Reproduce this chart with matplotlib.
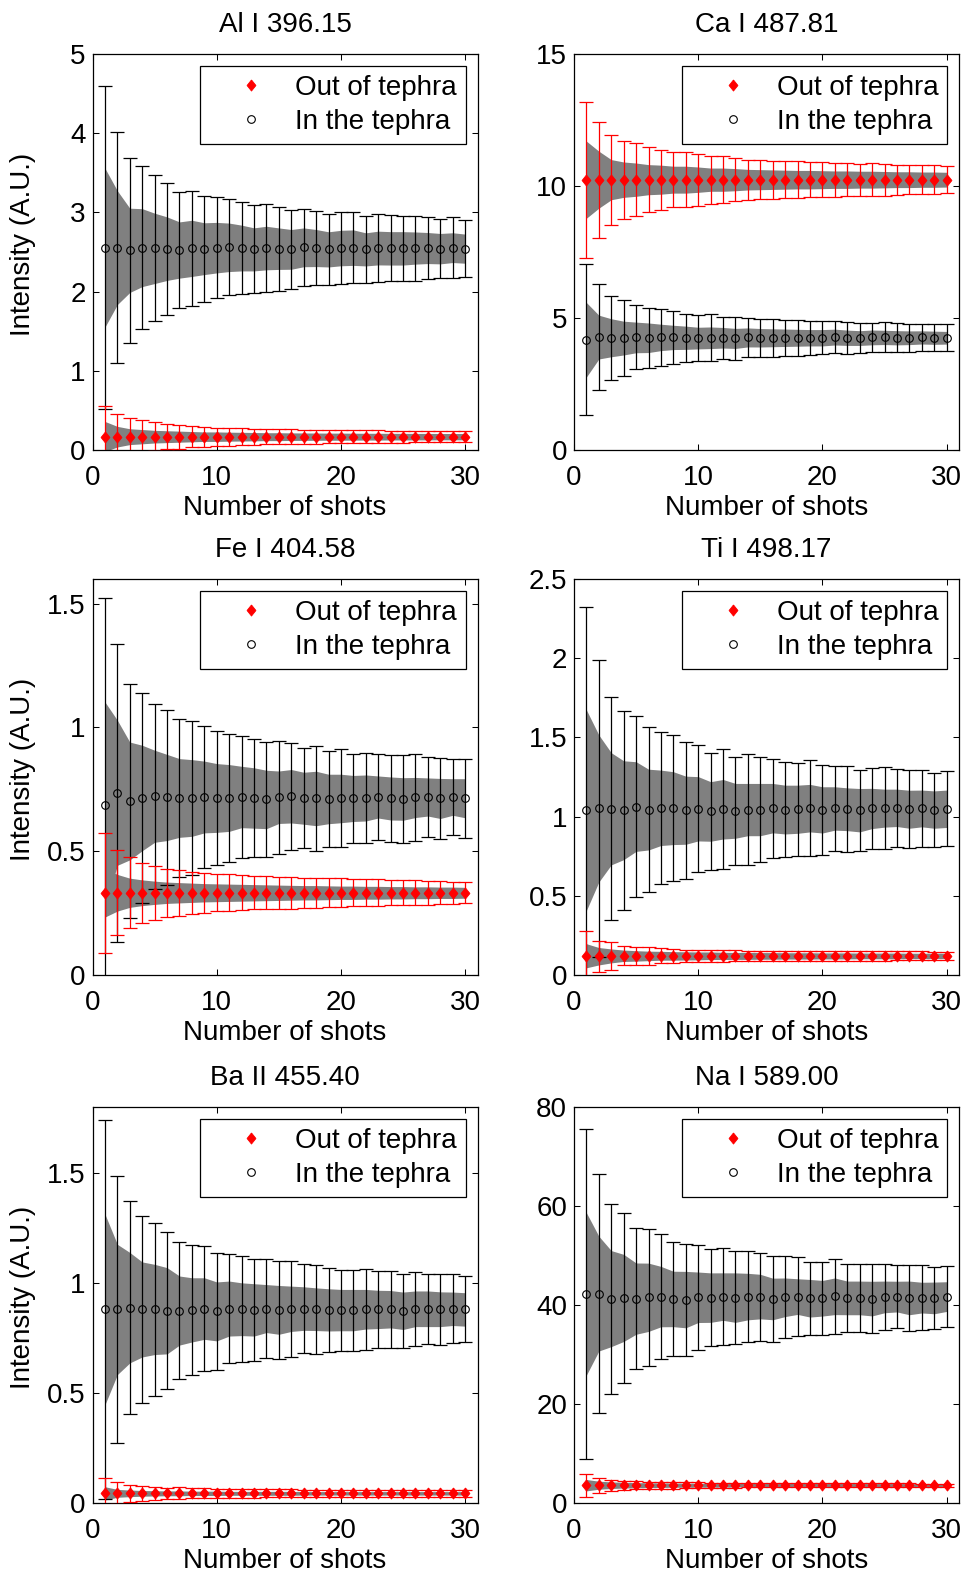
import matplotlib
matplotlib.use("Agg")
import matplotlib.pyplot as plt
from matplotlib.ticker import FormatStrFormatter

plt.rcParams["font.family"] = ["Liberation Sans", "DejaVu Sans"]
plt.rcParams["font.size"] = 20

shots = list(range(1, 31))

# ---- Al I 396.15 ----
al_out_mean = [0.17] + [0.168] * 29
al_out_err = [0.38, 0.283, 0.241, 0.211, 0.182, 0.161, 0.152, 0.135, 0.127, 0.114, 0.114, 0.106, 0.101, 0.097, 0.097,
              0.093, 0.089, 0.089, 0.084, 0.084, 0.080, 0.080, 0.080, 0.076, 0.076, 0.072, 0.072, 0.072, 0.068, 0.068]
al_out_band = [0.19, 0.13, 0.10, 0.09, 0.08, 0.075, 0.07, 0.065, 0.06, 0.06, 0.057, 0.055, 0.053, 0.05, 0.05,
               0.048, 0.047, 0.046, 0.045, 0.045, 0.044, 0.043, 0.043, 0.042, 0.042, 0.041, 0.041, 0.040, 0.040, 0.040]
al_in_mean = [2.555, 2.555, 2.521, 2.555, 2.546, 2.542, 2.525, 2.546, 2.542, 2.555, 2.559, 2.550, 2.533, 2.550, 2.542,
              2.533, 2.559, 2.550, 2.533, 2.550, 2.555, 2.533, 2.550, 2.546, 2.546, 2.550, 2.550, 2.542, 2.555, 2.542]
al_in_err = [2.04, 1.462, 1.170, 1.029, 0.921, 0.834, 0.735, 0.729, 0.670, 0.634, 0.606, 0.581, 0.556, 0.556, 0.530,
             0.503, 0.490, 0.469, 0.452, 0.450, 0.444, 0.422, 0.433, 0.418, 0.412, 0.410, 0.395, 0.374, 0.382, 0.361]
al_in_band = [1.003, 0.718, 0.532, 0.492, 0.444, 0.401, 0.355, 0.355, 0.327, 0.319, 0.306, 0.289, 0.272, 0.275, 0.262,
              0.251, 0.245, 0.234, 0.222, 0.224, 0.224, 0.209, 0.213, 0.211, 0.211, 0.203, 0.196, 0.192, 0.188, 0.184]

# ---- Ca I 487.81 ----
ca_out_mean = [10.24] * 30
ca_out_err = [2.96, 2.20, 1.71, 1.48, 1.38, 1.23, 1.14, 1.04, 1.04, 0.98, 0.91, 0.89, 0.82, 0.76, 0.75,
              0.72, 0.70, 0.69, 0.66, 0.66, 0.65, 0.63, 0.61, 0.62, 0.61, 0.57, 0.56, 0.55, 0.55, 0.52]
ca_out_band = [1.46, 1.08, 0.76, 0.67, 0.63, 0.57, 0.55, 0.51, 0.51, 0.48, 0.44, 0.44, 0.42, 0.39, 0.38,
               0.37, 0.36, 0.35, 0.35, 0.34, 0.33, 0.33, 0.32, 0.32, 0.31, 0.30, 0.30, 0.29, 0.29, 0.28]
ca_in_mean = [4.175, 4.277, 4.251, 4.239, 4.264, 4.251, 4.264, 4.264, 4.251, 4.239, 4.251, 4.251, 4.226, 4.264, 4.251,
              4.251, 4.251, 4.251, 4.251, 4.251, 4.277, 4.251, 4.239, 4.264, 4.264, 4.251, 4.251, 4.264, 4.251, 4.251]
ca_in_err = [2.86, 2.01, 1.59, 1.45, 1.21, 1.13, 1.07, 1.00, 0.90, 0.86, 0.89, 0.79, 0.80, 0.74, 0.72,
             0.72, 0.69, 0.69, 0.65, 0.62, 0.60, 0.60, 0.58, 0.56, 0.57, 0.55, 0.53, 0.52, 0.52, 0.52]
ca_in_band = [1.41, 0.83, 0.72, 0.64, 0.58, 0.56, 0.50, 0.46, 0.44, 0.41, 0.41, 0.39, 0.38, 0.36, 0.35,
              0.34, 0.33, 0.32, 0.31, 0.31, 0.30, 0.29, 0.28, 0.28, 0.27, 0.27, 0.26, 0.25, 0.25, 0.24]

# ---- Fe I 404.58 ----
fe_out_mean = [0.332] * 30
fe_out_err = [0.242, 0.172, 0.143, 0.121, 0.109, 0.096, 0.092, 0.085, 0.081, 0.075, 0.074, 0.071, 0.067, 0.067, 0.065,
              0.065, 0.061, 0.061, 0.058, 0.058, 0.055, 0.054, 0.054, 0.051, 0.051, 0.050, 0.048, 0.047, 0.044, 0.043]
fe_out_band = [0.098, 0.074, 0.059, 0.052, 0.047, 0.043, 0.041, 0.039, 0.037, 0.036, 0.035, 0.034, 0.033, 0.032, 0.031,
               0.030, 0.029, 0.029, 0.028, 0.027, 0.027, 0.026, 0.026, 0.025, 0.025, 0.024, 0.024, 0.023, 0.023, 0.022]
fe_in_mean = [0.688, 0.736, 0.703, 0.715, 0.722, 0.717, 0.715, 0.715, 0.719, 0.715, 0.715, 0.719, 0.715, 0.709, 0.718,
              0.722, 0.714, 0.713, 0.711, 0.713, 0.713, 0.715, 0.719, 0.713, 0.711, 0.717, 0.719, 0.713, 0.719, 0.714]
fe_in_err = [0.834, 0.603, 0.474, 0.424, 0.374, 0.353, 0.318, 0.310, 0.287, 0.271, 0.260, 0.246, 0.240, 0.233, 0.229,
             0.217, 0.203, 0.214, 0.195, 0.198, 0.178, 0.182, 0.175, 0.175, 0.176, 0.174, 0.163, 0.164, 0.152, 0.160]
fe_in_band = [0.415, 0.293, 0.238, 0.213, 0.186, 0.174, 0.159, 0.155, 0.145, 0.139, 0.135, 0.124, 0.122, 0.118, 0.106,
              0.108, 0.105, 0.110, 0.100, 0.098, 0.093, 0.093, 0.085, 0.087, 0.086, 0.081, 0.077, 0.081, 0.074, 0.079]

# ---- Ti I 498.17 ----
ti_out_mean = [0.121, 0.118, 0.120, 0.121, 0.120, 0.120, 0.121, 0.120, 0.120, 0.120, 0.121, 0.120, 0.120, 0.120, 0.120,
               0.120, 0.120, 0.120, 0.120, 0.120, 0.120, 0.120, 0.120, 0.120, 0.120, 0.120, 0.120, 0.120, 0.120, 0.120]
ti_out_err = [0.156, 0.097, 0.086, 0.061, 0.059, 0.055, 0.046, 0.044, 0.040, 0.040, 0.038, 0.038, 0.035, 0.034, 0.034,
              0.033, 0.032, 0.032, 0.031, 0.031, 0.030, 0.030, 0.029, 0.029, 0.029, 0.028, 0.028, 0.028, 0.027, 0.027]
ti_out_band = [0.076, 0.055, 0.044, 0.036, 0.033, 0.030, 0.028, 0.027, 0.026, 0.025, 0.024, 0.023, 0.022, 0.022, 0.021,
               0.021, 0.020, 0.020, 0.020, 0.019, 0.019, 0.019, 0.018, 0.018, 0.018, 0.018, 0.017, 0.017, 0.017, 0.017]
ti_in_mean = [1.040, 1.051, 1.049, 1.040, 1.063, 1.044, 1.055, 1.053, 1.040, 1.049, 1.032, 1.046, 1.036, 1.044, 1.044,
              1.053, 1.044, 1.046, 1.053, 1.042, 1.051, 1.046, 1.040, 1.051, 1.053, 1.055, 1.046, 1.051, 1.044, 1.049]
ti_in_err = [1.28, 0.935, 0.703, 0.627, 0.574, 0.519, 0.481, 0.460, 0.432, 0.401, 0.367, 0.378, 0.342, 0.348, 0.329,
             0.312, 0.300, 0.293, 0.302, 0.283, 0.270, 0.272, 0.257, 0.257, 0.259, 0.247, 0.247, 0.241, 0.234, 0.236]
ti_in_band = [0.633, 0.464, 0.354, 0.312, 0.283, 0.255, 0.238, 0.230, 0.215, 0.203, 0.188, 0.188, 0.173, 0.165, 0.165,
              0.156, 0.154, 0.152, 0.150, 0.146, 0.137, 0.135, 0.137, 0.127, 0.120, 0.118, 0.120, 0.116, 0.118, 0.118]

# ---- Ba II 455.40 ----
ba_out_mean = [0.044] * 30
ba_out_err = [0.071, 0.050, 0.038, 0.035, 0.030, 0.026, 0.027, 0.023, 0.023, 0.020, 0.020, 0.019, 0.019, 0.018, 0.018,
              0.018, 0.017, 0.017, 0.017, 0.017, 0.016, 0.016, 0.016, 0.016, 0.016, 0.015, 0.015, 0.015, 0.015, 0.015]
ba_out_band = [0.030, 0.018, 0.015, 0.013, 0.012, 0.011, 0.011, 0.010, 0.010, 0.010, 0.009, 0.009, 0.009, 0.009, 0.009,
               0.009, 0.008, 0.008, 0.008, 0.008, 0.008, 0.008, 0.008, 0.008, 0.008, 0.008, 0.008, 0.008, 0.008, 0.008]
ba_in_mean = [0.880, 0.880, 0.888, 0.880, 0.880, 0.874, 0.875, 0.878, 0.884, 0.871, 0.884, 0.881, 0.878, 0.884, 0.878,
              0.883, 0.884, 0.881, 0.878, 0.877, 0.877, 0.881, 0.880, 0.881, 0.874, 0.883, 0.883, 0.881, 0.883, 0.880]
ba_in_err = [0.863, 0.608, 0.483, 0.426, 0.392, 0.356, 0.313, 0.295, 0.283, 0.266, 0.249, 0.240, 0.233, 0.225, 0.222,
             0.217, 0.202, 0.202, 0.191, 0.184, 0.184, 0.184, 0.176, 0.175, 0.169, 0.169, 0.160, 0.161, 0.157, 0.150]
ba_in_band = [0.433, 0.296, 0.251, 0.216, 0.205, 0.196, 0.157, 0.146, 0.140, 0.134, 0.125, 0.120, 0.119, 0.109, 0.111,
              0.103, 0.099, 0.097, 0.096, 0.094, 0.094, 0.090, 0.087, 0.085, 0.085, 0.081, 0.081, 0.079, 0.076, 0.076]

# ---- Na I 589.00 ----
na_out_mean = [3.6] * 30
na_out_err = [2.3, 1.48, 1.15, 0.94, 0.81, 0.74, 0.67, 0.67, 0.61, 0.55, 0.52, 0.50, 0.48, 0.46, 0.45,
              0.44, 0.43, 0.42, 0.41, 0.40, 0.39, 0.38, 0.37, 0.37, 0.36, 0.35, 0.35, 0.34, 0.34, 0.33]
na_out_band = [1.15, 0.81, 0.67, 0.58, 0.52, 0.48, 0.45, 0.43, 0.41, 0.40, 0.39, 0.38, 0.37, 0.37, 0.36,
               0.36, 0.35, 0.35, 0.35, 0.34, 0.34, 0.34, 0.33, 0.33, 0.33, 0.33, 0.32, 0.32, 0.32, 0.32]
na_in_mean = [42.25, 42.31, 41.30, 41.44, 41.30, 41.57, 41.71, 41.23, 41.10, 41.57, 41.50, 41.71, 41.50, 41.71, 41.71,
              41.23, 41.57, 41.71, 41.37, 41.37, 41.77, 41.44, 41.44, 41.30, 41.64, 41.71, 41.44, 41.50, 41.44, 41.71]
na_in_err = [33.4, 24.1, 19.2, 17.2, 14.3, 13.8, 12.6, 11.6, 11.3, 10.6, 9.8, 9.8, 9.4, 9.2, 8.9,
             8.6, 8.3, 8.0, 7.4, 7.4, 7.6, 6.8, 6.9, 6.9, 6.7, 6.4, 6.7, 6.5, 6.2, 6.1]
na_in_band = [16.4, 11.6, 9.7, 8.8, 7.2, 6.9, 6.1, 5.6, 5.7, 5.1, 5.0, 4.8, 5.0, 4.7, 4.5,
              4.2, 3.9, 3.6, 3.8, 3.6, 3.7, 3.4, 3.4, 3.5, 3.2, 3.1, 3.4, 3.1, 3.2, 3.0]

titles = ["Al I 396.15", "Ca I 487.81", "Fe I 404.58", "Ti I 498.17", "Ba II 455.40", "Na I 589.00"]
ylims = [5, 15, 1.6, 2.5, 1.8, 80]
yticks = [[0, 1, 2, 3, 4, 5], [0, 5, 10, 15], [0, 0.5, 1, 1.5], [0, 0.5, 1, 1.5, 2, 2.5], [0, 0.5, 1, 1.5],
          [0, 20, 40, 60, 80]]

panels = [
    (al_out_mean, al_out_err, al_out_band, al_in_mean, al_in_err, al_in_band),
    (ca_out_mean, ca_out_err, ca_out_band, ca_in_mean, ca_in_err, ca_in_band),
    (fe_out_mean, fe_out_err, fe_out_band, fe_in_mean, fe_in_err, fe_in_band),
    (ti_out_mean, ti_out_err, ti_out_band, ti_in_mean, ti_in_err, ti_in_band),
    (ba_out_mean, ba_out_err, ba_out_band, ba_in_mean, ba_in_err, ba_in_band),
    (na_out_mean, na_out_err, na_out_band, na_in_mean, na_in_err, na_in_band),
]

# axes boxes in figure fractions (left, bottom, width, height)
lefts = [0.0958, 0.5942]
bottoms = [0.7143, 0.3810, 0.0457]
w, h = 0.3986, 0.2514

diamond = [(0, 1), (0.8, 0), (0, -1), (-0.8, 0), (0, 1)]
gray = "#808080"

fig = plt.figure(figsize=(9.66, 15.75), dpi=100)

for i, (om, oe, ob, im, ie, ib) in enumerate(panels):
    ax = fig.add_axes([lefts[i % 2], bottoms[i // 2], w, h])

    ax.fill_between(shots, [m - b for m, b in zip(im, ib)], [m + b for m, b in zip(im, ib)],
                    color=gray, linewidth=0, zorder=1)
    ax.fill_between(shots, [m - b for m, b in zip(om, ob)], [m + b for m, b in zip(om, ob)],
                    color=gray, linewidth=0, zorder=1)

    ax.errorbar(shots, im, yerr=ie, fmt="none", ecolor="black", elinewidth=0.9, capsize=5, capthick=0.9, zorder=2)
    ax.errorbar(shots, om, yerr=oe, fmt="none", ecolor="red", elinewidth=0.9, capsize=5, capthick=0.9, zorder=3)

    l_in, = ax.plot(shots, im, linestyle="none", marker="o", markersize=5.5, markerfacecolor="none",
                    markeredgecolor="black", markeredgewidth=0.8, zorder=4, label="In the tephra")
    l_out, = ax.plot(shots, om, linestyle="none", marker=diamond, markersize=8, color="red",
                     markeredgewidth=0.6, zorder=5, label="Out of tephra")

    ax.set_xlim(0, 31)
    ax.set_ylim(0, ylims[i])
    ax.set_xticks([0, 10, 20, 30])
    ax.set_yticks(yticks[i])
    ax.yaxis.set_major_formatter(FormatStrFormatter("%g"))
    ax.tick_params(direction="in", top=True, right=True, length=4, width=0.75, labelsize=20)
    ax.tick_params(axis="x", pad=10.5)
    ax.tick_params(axis="y", pad=5)
    for s in ax.spines.values():
        s.set_linewidth(0.9)

    ax.set_title(titles[i], fontsize=20, pad=16)
    ax.set_xlabel("Number of shots", fontsize=20, labelpad=3.5)
    if i % 2 == 0:
        ax.set_ylabel("Intensity (A.U.)", fontsize=20)
        ax.yaxis.set_label_coords(-0.147, 0.52)

    leg = ax.legend([l_out, l_in], ["Out of tephra", "In the tephra"], loc="upper right", fontsize=20,
                    fancybox=False, edgecolor="black", framealpha=1, borderpad=0.33, labelspacing=0.29,
                    handlelength=3.0, handletextpad=0.08, borderaxespad=0.42)
    leg.get_frame().set_linewidth(0.9)

fig.savefig("out.png", dpi=100)
